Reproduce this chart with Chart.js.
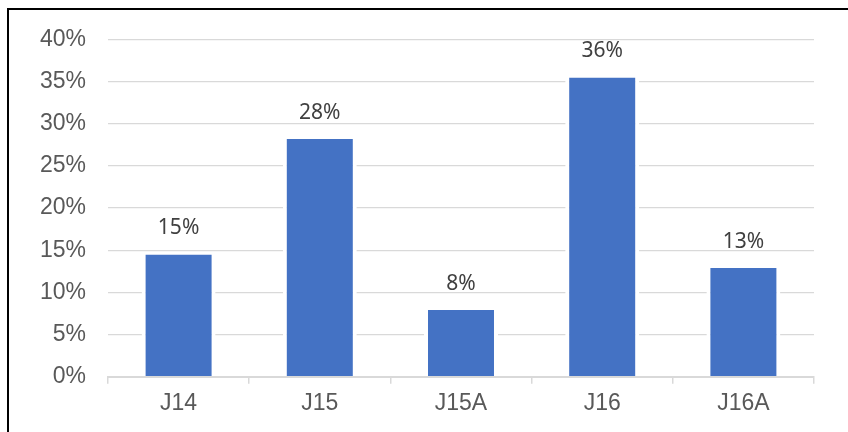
<!DOCTYPE html>
<html>
<head>
<meta charset="utf-8">
<script src="https://cdn.jsdelivr.net/npm/chart.js@4.4.1/dist/chart.umd.min.js"></script>
<style>
    html, body { margin: 0; padding: 0; background: #ffffff; overflow: hidden; }
    #wrap { position: relative; width: 848px; height: 432px; }
    #frame {
        position: absolute; left: 7px; top: 8px; width: 900px; height: 500px;
        border-left: 2px solid #000; border-top: 2px solid #000;
    }
    #chart { position: absolute; left: 0; top: 0; }
</style>
</head>
<body>
<div id="wrap">
    <div id="frame"></div>
    <canvas id="chart" width="848" height="432"></canvas>
</div>
<script>
// Kategoriler ve değerler (yüzde)
const categories = ['J14', 'J15', 'J15A', 'J16', 'J16A'];
const shares = [14.5, 28.2, 7.9, 35.5, 12.9];
const yTicks = [0, 5, 10, 15, 20, 25, 30, 35, 40];

const barColor = '#4472C4';
const gridColor = '#d9d9d9';

// Çubukların üstüne yüzde etiketi yazan küçük eklenti
const barLabels = {
    id: 'barLabels',
    afterDatasetsDraw(chart) {
        const ctx = chart.ctx;
        const meta = chart.getDatasetMeta(0);
        ctx.save();
        ctx.font = '21px "Noto Sans"';
        ctx.fillStyle = '#404040';
        ctx.textAlign = 'center';
        ctx.textBaseline = 'alphabetic';
        meta.data.forEach((bar, i) => {
            ctx.fillText(Math.round(shares[i]) + '%', bar.x, bar.y - 20);
        });
        ctx.restore();
    }
};

new Chart(document.getElementById('chart').getContext('2d'), {
    type: 'bar',
    data: {
        labels: categories,
        datasets: [{
            data: shares,
            backgroundColor: barColor,
            borderColor: '#ffffff',
            borderWidth: { left: 4, right: 4, top: 0, bottom: 0 },
            borderSkipped: 'start',
            categoryPercentage: 1,
            barPercentage: 0.524
        }]
    },
    options: {
        responsive: false,
        animation: false,
        layout: { padding: { top: 39.5, right: 34, bottom: 0, left: 0 } },
        plugins: {
            legend: { display: false },
            tooltip: { enabled: false }
        },
        scales: {
            x: {
                grid: {
                    display: true,
                    drawOnChartArea: false,
                    drawTicks: true,
                    tickLength: 7,
                    color: gridColor,
                    lineWidth: 1.5,
                    offset: true
                },
                border: { display: true, color: gridColor, width: 2, z: 1 },
                ticks: {
                    padding: 6,
                    color: '#595959',
                    font: { family: '"Liberation Sans", Arial, sans-serif', size: 23 }
                },
                afterFit(scale) { scale.height = 55.3; }
            },
            y: {
                min: 0,
                max: 40,
                afterBuildTicks(scale) {
                    scale.ticks = yTicks.map(v => ({ value: v }));
                },
                grid: {
                    color: gridColor,
                    lineWidth: 1.3,
                    drawTicks: false
                },
                border: { display: false },
                ticks: {
                    padding: 22,
                    color: '#595959',
                    font: { family: '"Liberation Sans", Arial, sans-serif', size: 23 },
                    callback: value => value + '%'
                },
                afterFit(scale) { scale.width = 108; }
            }
        }
    },
    plugins: [barLabels]
});
</script>
</body>
</html>
